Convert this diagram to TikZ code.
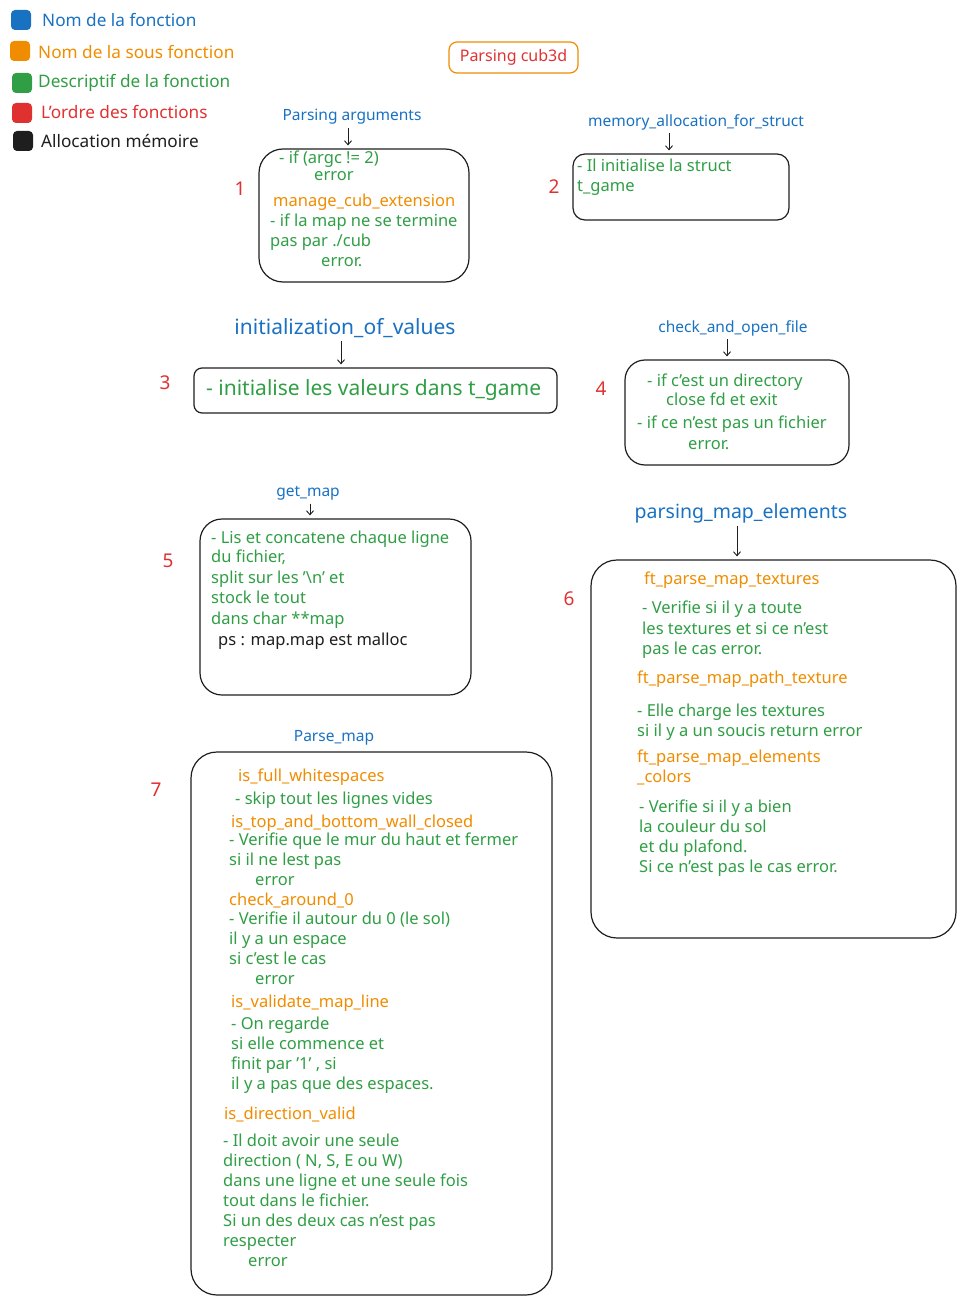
\documentclass[tikz,border=0pt]{standalone}
\usepackage{fontspec}
\setmainfont{Noto Sans}
\usepackage{tikz}
\usetikzlibrary{arrows.meta}

\definecolor{fnblue}{HTML}{1971C2}
\definecolor{suborange}{HTML}{F08C00}
\definecolor{descgreen}{HTML}{2F9E44}
\definecolor{ordred}{HTML}{E03131}
\definecolor{ink}{HTML}{1E1E1E}

\tikzset{
  box/.style={draw=ink, line width=1.2pt, inner sep=0pt},
  fname/.style={text=fnblue, font=\fontsize{15.5}{18}\selectfont},
  fnamebig/.style={text=fnblue, font=\fontsize{20.5}{23}\selectfont},
  line/.style={anchor=west, inner sep=0pt, text height=11.5pt, text depth=3.5pt, font=\fontsize{16.5}{19}\selectfont},
  sub/.style={line, text=suborange},
  desc/.style={line, text=descgreen},
  mem/.style={line, text=ink},
  order/.style={text=ordred, font=\fontsize{19}{22}\selectfont},
  legsq/.style={minimum size=20pt, inner sep=0pt, rounded corners=4pt},
  legtxt/.style={anchor=west, inner sep=0pt, font=\fontsize{17.2}{20}\selectfont},
  arrow/.style={-{Straight Barb[length=4pt,width=7pt]}, ink, line width=0.9pt, shorten >=3pt}
}

\begin{document}
\begin{tikzpicture}[x=1pt, y=-1pt]
\useasboundingbox (0,0) rectangle (965,1305);

% legend
\node[legsq, fill=fnblue]     (sq1) at (21,20)  {};
\node[legsq, fill=suborange]  (sq2) at (20,51)  {};
\node[legsq, fill=descgreen]  (sq3) at (22,83)  {};
\node[legsq, fill=ordred]     (sq4) at (22,113) {};
\node[legsq, fill=ink]        (sq5) at (23,141) {};
\node[legtxt, text=fnblue]    (leg1) at (42,20)  {Nom de la fonction};
\node[legtxt, text=suborange] (leg2) at (38,52)  {Nom de la sous fonction};
\node[legtxt, text=descgreen] (leg3) at (38,83)  {Descriptif de la fonction};
\node[legtxt, text=ordred]    (leg4) at (41,112) {L'ordre des fonctions};
\node[legtxt, text=ink]       (leg5) at (41,141) {Allocation mémoire};

% title
\node[draw=suborange, line width=1.2pt, rounded corners=8pt, minimum width=129pt, minimum height=31pt,
      text=ordred, font=\fontsize{16}{19}\selectfont] (title) at (513.5,57.5) {Parsing cub3d};

% boxes
\node[box, rounded corners=24pt, minimum width=210pt, minimum height=133pt] (box1) at (364,215.5) {};
\node[box, rounded corners=12pt, minimum width=216pt, minimum height=66pt]  (box2) at (681,187) {};
\node[box, rounded corners=8pt,  minimum width=363pt, minimum height=45pt]  (box3) at (375.5,390.5) {};
\node[box, rounded corners=20pt, minimum width=224pt, minimum height=105pt] (box4) at (737,412.5) {};
\node[box, rounded corners=22pt, minimum width=271pt, minimum height=176pt] (box5) at (335.5,607) {};
\node[box, rounded corners=26pt, minimum width=365pt, minimum height=378pt] (box6) at (773.5,749) {};
\node[box, rounded corners=26pt, minimum width=361pt, minimum height=543pt] (box7) at (371.5,1023.5) {};

% function names
\node[fname]    (lab1) at (352,117) {Parsing arguments};
\node[fname]    (lab2) at (696,122) {memory\_allocation\_for\_struct};
\node[fnamebig, font=\fontsize{21}{24}\selectfont] (lab3) at (345,328) {initialization\_of\_values};
\node[fname]    (lab4) at (733,328) {check\_and\_open\_file};
\node[fname]    (lab5) at (308,493) {get\_map};
\node[fnamebig, font=\fontsize{19.5}{22}\selectfont] (lab6) at (741,513) {parsing\_map\_elements};
\node[fname]    (lab7) at (334,738) {Parse\_map};

\draw[arrow] ([xshift=-4pt]lab1.south) -- ([xshift=-4pt]lab1.south |- box1.north);
\draw[arrow] ([xshift=-27pt]lab2.south) -- ([xshift=-27pt]lab2.south |- box2.north);
\draw[arrow] ([xshift=-4pt]lab3.south) -- ([xshift=-4pt]lab3.south |- box3.north);
\draw[arrow] ([xshift=-6pt]lab4.south) -- ([xshift=-6pt]lab4.south |- box4.north);
\draw[arrow] ([xshift=2pt]lab5.south) -- ([xshift=2pt]lab5.south |- box5.north);
\draw[arrow] ([xshift=-4pt]lab6.south) -- ([xshift=-4pt]lab6.south |- box6.north);

% order numbers
\node[order] (n1) at (240,189) {1};
\node[order] (n2) at (554,187) {2};
\node[order] (n3) at (165,383) {3};
\node[order] (n4) at (601,389) {4};
\node[order] (n5) at (168,561) {5};
\node[order] (n6) at (569,599) {6};
\node[order] (n7) at (156,790) {7};

% box 1
\foreach \y/\x/\s/\t [count=\i] in {
  160/279/desc/{- if (argc != 2)},
  177/314/desc/error,
  203/273/sub/manage\_cub\_extension,
  223/270/desc/- if la map ne se termine,
  243/270/desc/{pas par ./cub},
  263/321/desc/error.}
  \node[\s] (t1-\i) at (\x,\y) {\t};

% box 2
\node[desc] (t2-1) at (577,168) {- Il initialise la struct};
\node[desc] (t2-2) at (577,188) {t\_game};

% box 3
\node[desc, text height=14pt, text depth=4.5pt, font=\fontsize{21}{24}\selectfont] (t3-1) at (206,391) {- initialise les valeurs dans t\_game};

% box 4
\foreach \y/\x/\t [count=\i] in {
  382/647/- if c'est un directory,
  401/666/close fd et exit,
  424/637/- if ce n'est pas un fichier,
  445/688/error.}
  \node[desc] (t4-\i) at (\x,\y) {\t};

% box 5
\foreach \y/\x/\s/\t [count=\i] in {
  539/211/desc/- Lis et concatene chaque ligne,
  558/211/desc/{du fichier,},
  579/211/desc/split sur les '\textbackslash n' et,
  599/211/desc/stock le tout,
  620/211/desc/dans char **map,
  641/218/mem/ps : map.map est malloc}
  \node[\s] (t5-\i) at (\x,\y) {\t};

% box 6
\foreach \y/\x/\s/\t [count=\i] in {
  580/644/sub/ft\_parse\_map\_textures,
  609/642/desc/- Verifie si il y a toute,
  630/642/desc/les textures et si ce n'est,
  650/642/desc/pas le cas error.,
  679/637/sub/ft\_parse\_map\_path\_texture,
  712/637/desc/- Elle charge les textures,
  732/637/desc/si il y a un soucis return error,
  758/637/sub/ft\_parse\_map\_elements,
  778/637/sub/\_colors,
  808/639/desc/- Verifie si il y a bien,
  828/639/desc/la couleur du sol,
  848/639/desc/et du plafond.,
  868/639/desc/Si ce n'est pas le cas error.}
  \node[\s] (t6-\i) at (\x,\y) {\t};

% box 7
\foreach \y/\x/\s/\t [count=\i] in {
  777/238/sub/is\_full\_whitespaces,
  800/235/desc/- skip tout les lignes vides,
  823/231/sub/is\_top\_and\_bottom\_wall\_closed,
  841/229/desc/- Verifie que le mur du haut et fermer,
  861/229/desc/si il ne lest pas,
  881/255/desc/error,
  901/229/sub/check\_around\_0,
  920/229/desc/- Verifie il autour du 0 (le sol),
  940/229/desc/il y a un espace,
  960/229/desc/si c'est le cas,
  980/255/desc/error,
  1003/231/sub/is\_validate\_map\_line,
  1025/231/desc/- On regarde,
  1045/231/desc/si elle commence et,
  1065/231/desc/{finit par '1' , si},
  1085/231/desc/il y a pas que des espaces.,
  1115/224/sub/is\_direction\_valid,
  1142/223/desc/- Il doit avoir une seule,
  1162/223/desc/{direction ( N, S, E ou W)},
  1182/223/desc/dans une ligne et une seule fois,
  1202/223/desc/tout dans le fichier.,
  1222/223/desc/Si un des deux cas n'est pas,
  1242/223/desc/respecter,
  1262/248/desc/error}
  \node[\s] (t7-\i) at (\x,\y) {\t};

\end{tikzpicture}
\end{document}
